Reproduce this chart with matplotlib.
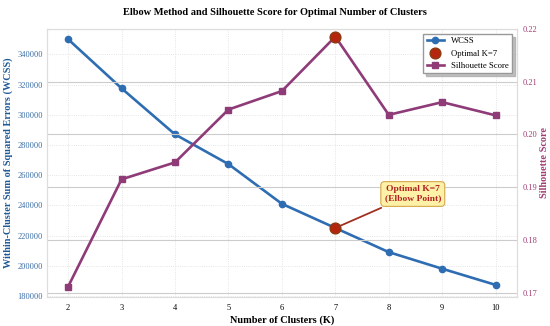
import matplotlib
matplotlib.use("Agg")
import matplotlib.pyplot as plt

plt.rcParams['font.family'] = ['Liberation Serif', 'DejaVu Serif']

k_values = [2, 3, 4, 5, 6, 7, 8, 9, 10]
wcss = [350000, 317500, 287000, 267300, 241000, 225000, 209000, 198000, 187300]
silhouette = [0.1712, 0.1915, 0.1947, 0.2047, 0.2082, 0.2185, 0.2037, 0.2061, 0.2036]
optimal_k = 7
left_ticks = [180000, 200000, 220000, 240000, 260000, 280000, 300000, 320000, 340000]
right_ticks = [0.17, 0.18, 0.19, 0.20, 0.21, 0.22]

blue = '#2f6db3'
purple = '#8e3b78'

fig, ax1 = plt.subplots(figsize=(5.5, 3.26), dpi=100)
fig.subplots_adjust(left=0.085, right=0.94, top=0.912, bottom=0.09)

l1, = ax1.plot(k_values, wcss, '-o', color=blue, lw=1.9, ms=4.5, label='WCSS', zorder=3)
opt_idx = k_values.index(optimal_k)
ax1.set_xlabel('Number of Clusters (K)', fontsize=7.4, fontweight='bold', labelpad=3)
ax1.set_ylabel('Within-Cluster Sum of Squared Errors (WCSS)', fontsize=7.4, fontweight='bold', color='#1f5a96', labelpad=3)
ax1.set_xlim(1.6, 10.4)
ax1.set_ylim(179500, 357000)
ax1.set_xticks(k_values)
ax1.set_yticks(left_ticks)
ax1.tick_params(axis='y', labelsize=6, colors='#3a6ea5', length=0, pad=3)
ax1.tick_params(axis='x', labelsize=6, length=0, pad=5)
ax1.grid(True, linestyle=':', color='#dddddd', lw=0.6)
for sp in ax1.spines.values():
    sp.set_color('#dddddd')

ax2 = ax1.twinx()
l2, = ax2.plot(k_values, silhouette, '-s', color=purple, lw=1.9, ms=4.5, label='Silhouette Score', zorder=3)
ax2.scatter([optimal_k], [silhouette[opt_idx]], s=60, color='#b5260f', edgecolor='#8b3a10', zorder=5)
s1 = ax2.scatter([optimal_k], [wcss[opt_idx]], s=60, color='#b5260f', edgecolor='#8b3a10', zorder=5,
                 transform=ax1.transData, label='Optimal K=7')
ax2.set_ylabel('Silhouette Score', fontsize=7.4, fontweight='bold', color='#a23b72', labelpad=2)
ax2.set_ylim(0.1693, 0.2200)
ax2.set_yticks(right_ticks)
ax2.set_yticklabels(['0.17', '0.18', '0.19', '0.20', '0.21', '0.22'])
ax2.tick_params(axis='y', labelsize=6, colors='#a23b72', length=0, pad=4)
ax2.grid(True, axis='y', color='#cccccc', lw=0.8)
for sp in ax2.spines.values():
    sp.set_color('#dddddd')

ax2.annotate('Optimal K=7\n(Elbow Point)', xy=(optimal_k, wcss[opt_idx]), xycoords=ax1.transData,
             xytext=(8.45, 247500), textcoords=ax1.transData,
             fontsize=6.8, fontweight='bold', color='#b22222', ha='center', va='center',
             bbox=dict(boxstyle='round,pad=0.4', fc='#fdf1a8', ec='#d4a84a', lw=0.8),
             arrowprops=dict(arrowstyle='-', color='#a0301f', lw=1.3), zorder=6)

leg = ax2.legend([l1, s1, l2], ['WCSS', 'Optimal K=7', 'Silhouette Score'], loc='upper right',
                 fontsize=6.2, shadow={'color': '0.6', 'alpha': 0.6}, fancybox=False, framealpha=1,
                 edgecolor='#999999', borderaxespad=0.6)
leg.set_zorder(10)

fig.suptitle('Elbow Method and Silhouette Score for Optimal Number of Clusters', fontsize=7.5, fontweight='bold', y=0.975)

fig.savefig('out.png', dpi=100)
